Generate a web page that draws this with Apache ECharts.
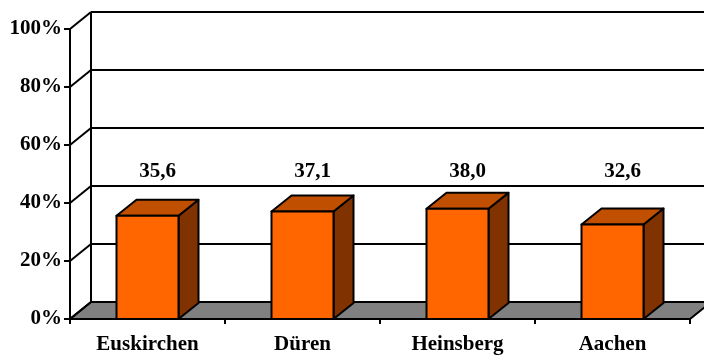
<!DOCTYPE html>
<html>
<head>
<meta charset="utf-8">
<script src="https://cdn.jsdelivr.net/npm/echarts@6/dist/echarts.min.js"></script>
<style>
  html, body { margin: 0; padding: 0; background: #fff; }
  #chart { width: 704px; height: 355px; }
</style>
</head>
<body>
<div id="chart"></div>
<script>
// Kreise und ihre Anteile in Prozent
const categories = ['Euskirchen', 'Düren', 'Heinsberg', 'Aachen'];
const values = [35.6, 37.1, 38.0, 32.6];
// Stufen der Werteachse (Rückwand-Gitter)
const yTicks = [0, 20, 40, 60, 80, 100];

const FONT = '"Liberation Serif", "Times New Roman", serif';
const WALL_DX = 21, WALL_DY = -17;   // Tiefe der Rück- und Seitenwand
const BAR_DX = 20, BAR_DY = -16;     // Tiefe der Säulen
const LABEL_LEVEL = 51;              // Höhe der Wertbeschriftung
const LINE = { stroke: '#000', lineWidth: 2 };

const fmt = v => v.toFixed(1).replace('.', ',');

// Boden, Rückwand und Seitenwand entlang der Achsenstufen
function renderWalls(params, api) {
  const cs = params.coordSys;
  const v = api.value(0);
  const y = api.coord([0, v])[1];
  const x0 = cs.x, x1 = cs.x + cs.width;
  const children = [];
  if (v === 0) {
    children.push({
      type: 'polygon',
      shape: { points: [[x0, y], [x1, y], [x1 + WALL_DX, y + WALL_DY], [x0 + WALL_DX, y + WALL_DY]] },
      style: { fill: '#808080', stroke: '#000', lineWidth: 2 }
    });
    const yTop = api.coord([0, yTicks[yTicks.length - 1]])[1];
    children.push({
      type: 'line',
      shape: { x1: x0 + WALL_DX, y1: yTop + WALL_DY, x2: x0 + WALL_DX, y2: y + WALL_DY },
      style: LINE
    });
  } else {
    children.push({
      type: 'line',
      shape: { x1: x0 + WALL_DX, y1: y + WALL_DY, x2: x1 + WALL_DX, y2: y + WALL_DY },
      style: LINE
    });
  }
  children.push({
    type: 'line',
    shape: { x1: x0, y1: y, x2: x0 + WALL_DX, y2: y + WALL_DY },
    style: LINE
  });
  return { type: 'group', children };
}

// Quaderförmige Säulen mit Wertbeschriftung
function renderBar(params, api) {
  const i = api.value(0), v = api.value(1);
  const base = api.coord([i, 0]);
  const top = api.coord([i, v]);
  const bw = api.size([1, 0])[0] * 0.4;
  const xl = base[0] - bw / 2, xr = base[0] + bw / 2;
  const yb = base[1], yt = top[1];
  const stroke = { stroke: '#000', lineWidth: 2, lineJoin: 'round' };
  return {
    type: 'group',
    children: [
      {
        type: 'polygon',
        shape: { points: [[xr, yb], [xr + BAR_DX, yb + BAR_DY], [xr + BAR_DX, yt + BAR_DY], [xr, yt]] },
        style: Object.assign({ fill: '#803300' }, stroke)
      },
      {
        type: 'polygon',
        shape: { points: [[xl, yt], [xr, yt], [xr + BAR_DX, yt + BAR_DY], [xl + BAR_DX, yt + BAR_DY]] },
        style: Object.assign({ fill: '#C04F00' }, stroke)
      },
      {
        type: 'rect',
        shape: { x: xl, y: yt, width: bw, height: yb - yt },
        style: Object.assign({ fill: '#FF6600' }, stroke)
      },
      {
        type: 'text',
        x: base[0] + BAR_DX / 2,
        y: api.coord([i, LABEL_LEVEL])[1],
        style: {
          text: fmt(v),
          fill: '#000',
          font: 'bold 21px ' + FONT,
          align: 'center',
          verticalAlign: 'middle'
        }
      }
    ]
  };
}

const chart = echarts.init(document.getElementById('chart'), null, { renderer: 'canvas' });
chart.setOption({
  animation: false,
  backgroundColor: '#fff',
  grid: { left: 70, right: 14, top: 29, bottom: 36 },
  xAxis: {
    type: 'category',
    data: categories,
    z: 5,
    axisLine: { show: true, lineStyle: { color: '#000', width: 2 } },
    axisTick: { show: true, length: 5, lineStyle: { color: '#000', width: 2 } },
    axisLabel: { interval: 0, margin: 15, color: '#000', fontFamily: FONT, fontWeight: 'bold', fontSize: 21 },
    splitLine: { show: false }
  },
  yAxis: {
    type: 'value',
    min: 0,
    max: 100,
    interval: 20,
    z: 5,
    axisLine: { show: true, lineStyle: { color: '#000', width: 2 } },
    axisTick: { show: true, length: 6, lineStyle: { color: '#000', width: 2 } },
    axisLabel: { formatter: '{value}%', margin: 8, color: '#000', fontFamily: FONT, fontWeight: 'bold', fontSize: 21 },
    splitLine: { show: false }
  },
  series: [
    {
      type: 'custom',
      z: 1,
      silent: true,
      clip: false,
      encode: { y: 0 },
      data: yTicks.map(v => [v]),
      renderItem: renderWalls
    },
    {
      type: 'custom',
      z: 3,
      clip: false,
      encode: { x: 0, y: 1 },
      data: values.map((v, i) => [i, v]),
      renderItem: renderBar
    }
  ]
});
</script>
</body>
</html>
